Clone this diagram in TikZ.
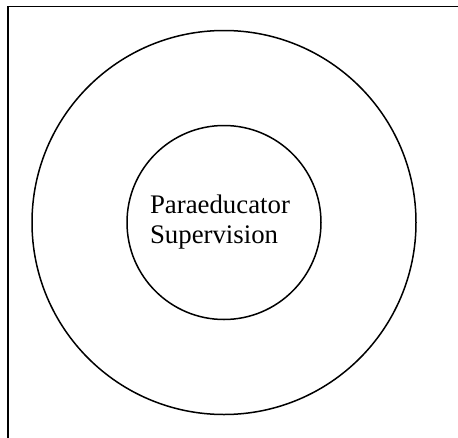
\documentclass[tikz,border=0pt]{standalone}
\usepackage{fontspec}
\setmainfont{Liberation Serif}
\usetikzlibrary{positioning}

\begin{document}
\begin{tikzpicture}[x=1pt, y=-1pt,
    ring/.style={draw, circle, line width=1.5pt, inner sep=0pt},
    frameline/.style={draw, line width=1.8pt}]
    % Page area
    \useasboundingbox (0,0) rectangle (458,437);
    \clip (0,0) rectangle (458,437);

    % Frame (cut off at right and bottom)
    \draw[frameline] (8,6.5) rectangle (480,460);

    % Circles
    \node[ring, minimum size=384pt] (outer) at (224,222.5) {};
    \node[ring, minimum size=194pt] (inner) at (outer.center) {};
    \node[align=left, font=\fontsize{26.8}{30}\selectfont, xshift=-4pt]
          (topic) at (inner.center) {Paraeducator\\Supervision};
\end{tikzpicture}
\end{document}
